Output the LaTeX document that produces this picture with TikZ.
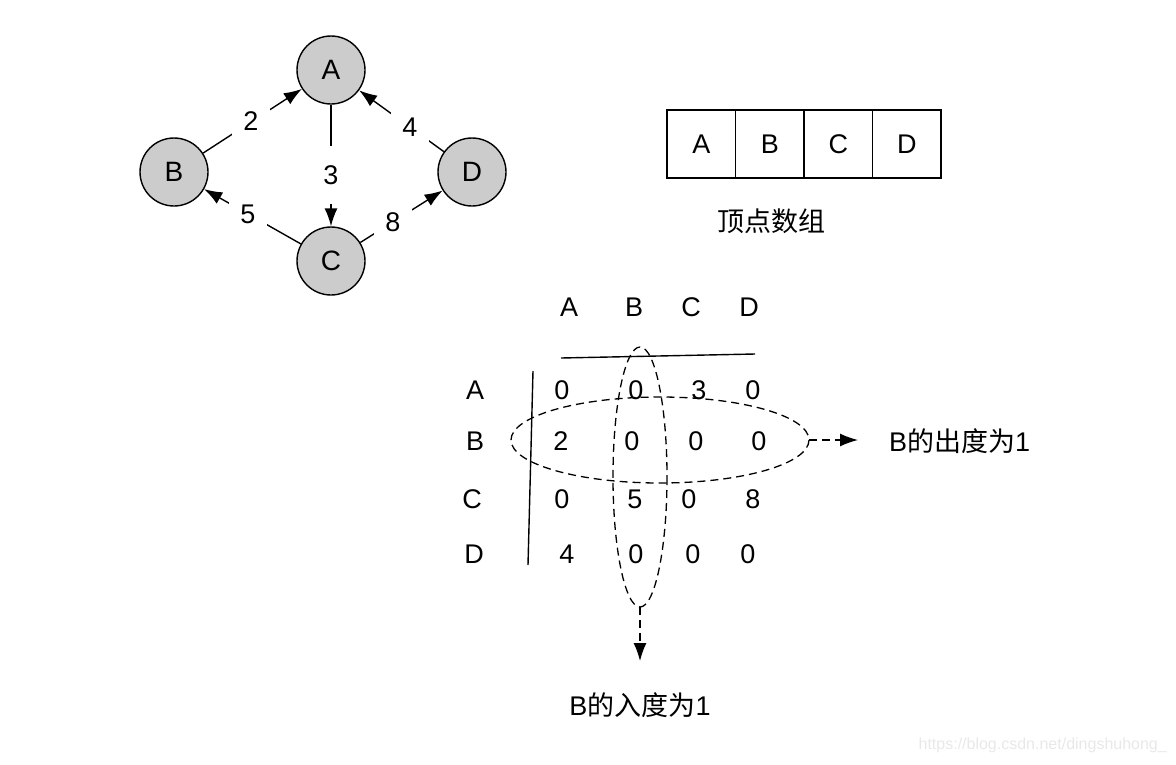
\documentclass[tikz,border=0pt]{standalone}
\usepackage{fontspec}
\setmainfont{Liberation Sans}
\newfontfamily\cjk{Noto Sans CJK SC}
\usetikzlibrary{arrows.meta}
\begin{document}
\begin{tikzpicture}[x=1pt,y=-1pt,
  vtx/.style={circle,draw,line width=1.4pt,fill=black!20,minimum size=68pt,inner sep=0pt,font=\fontsize{28}{28}\selectfont},
  lbl/.style={fill=white,inner sep=0pt,minimum width=38pt,minimum height=58pt,font=\fontsize{27}{27}\selectfont},
  txt/.style={inner sep=0pt,font=\fontsize{27}{27}\selectfont},
  ctxt/.style={inner sep=0pt,font=\fontsize{27}{27}\selectfont},
  edge/.style={line width=1.4pt,-{Latex[length=18pt,width=13pt]}},
  cell/.style={draw,line width=1.4pt,minimum width=68.5pt,minimum height=68pt,inner sep=0pt,font=\fontsize{27}{27}\selectfont},
  dsh/.style={line width=1.3pt,dash pattern=on 8pt off 5pt},
  darr/.style={dsh,-{Latex[length=18pt,width=13pt]}}
]
\useasboundingbox (0,0) rectangle (1176,764);
% graph
\node[vtx] (A) at (331,70) {A};
\node[vtx] (B) at (174,172) {B};
\node[vtx] (D) at (472,172) {D};
\node[vtx] (C) at (331,261) {C};
\draw[edge] (B) -- (A);
\draw[edge] (D) -- (A);
\draw[edge] (A) -- (C);
\draw[edge] (C) -- (B);
\draw[edge] (C) -- (D);
\node[lbl] (l2) at (251,121) {2};
\node[lbl] (l4) at (410,127) {4};
\node[lbl] (l3) at (331,175) {3};
\node[lbl] (l5) at (248,214) {5};
\node[lbl] (l8) at (393,222) {8};
% vertex array
\node[cell] (cA) at (701.25,144) {A};
\node[cell] (cB) at (769.75,144) {B};
\node[cell] (cC) at (838.25,144) {C};
\node[cell] (cD) at (906.75,144) {D};
\node[ctxt] (cap) at (771,221) {\cjk 顶点数组};
% matrix headers
\node[txt] (hA) at (569,307) {A};
\node[txt] (hB) at (634,307) {B};
\node[txt] (hC) at (691,307) {C};
\node[txt] (hD) at (749,307) {D};
\coordinate (h1) at (561,358);
\coordinate (h2) at (755,354);
\draw[line width=1.4pt] (h1) -- (h2);
\coordinate (v1) at (533,371);
\coordinate (v2) at (528,565);
\draw[line width=1.4pt] (v1) -- (v2);
\node[txt] (rA) at (475,390) {A};
\node[txt] (rB) at (475,441) {B};
\node[txt] (rC) at (472,499) {C};
\node[txt] (rD) at (474,554) {D};
% values
\node[txt] (m11) at (562,390) {0};
\node[txt] (m12) at (636,390) {0};
\node[txt] (m13) at (699,390) {3};
\node[txt] (m14) at (753,390) {0};
\node[txt] (m21) at (561,441) {2};
\node[txt] (m22) at (632,441) {0};
\node[txt] (m23) at (696,441) {0};
\node[txt] (m24) at (759,441) {0};
\node[txt] (m31) at (562,499) {0};
\node[txt] (m32) at (635,499) {5};
\node[txt] (m33) at (689,499) {0};
\node[txt] (m34) at (753,499) {8};
\node[txt] (m41) at (567,554) {4};
\node[txt] (m42) at (636,554) {0};
\node[txt] (m43) at (693,554) {0};
\node[txt] (m44) at (748,554) {0};
% ellipses
\draw[dsh] (660,440) ellipse [x radius=149, y radius=43];
\draw[dsh] (640,477) ellipse [x radius=27, y radius=130];
\coordinate (eR) at (809,440);
\coordinate (eB) at (640,607);
\coordinate (tR) at (858,440);
\coordinate (tB) at (640,661);
\node[ctxt,anchor=west] (outd) at (889,441) {B\cjk 的出度为\rmfamily 1};
\node[ctxt] (ind) at (640,705) {B\cjk 的入度为\rmfamily 1};
\draw[darr] (eR) -- (tR);
\draw[darr] (eB) -- (tB);
% watermark
\node[inner sep=0pt,text=black!9,font=\fontsize{16}{16}\selectfont,anchor=east] (wm) at (1167,745) {https://blog.csdn.net/dingshuhong\_};
\end{tikzpicture}
\end{document}
